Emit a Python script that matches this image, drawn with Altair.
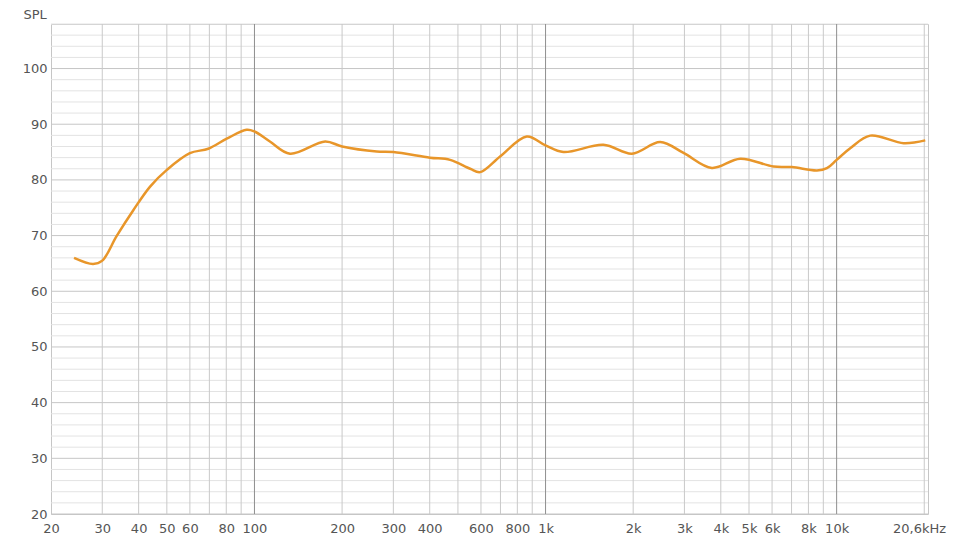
import altair as alt
import pandas as pd

# ---- data ----
freq = [24, 27.9, 30, 33.6, 38.4, 43.8, 50, 60, 69.4, 80.3, 94, 100, 113, 132.5,
        175, 200, 263, 300, 401, 470, 551, 596, 698, 862, 1000, 1152, 1581,
        1980, 2477, 2978, 3726, 4663, 6069, 7021, 8558, 9262, 10000, 11135, 13043,
        16985, 20160]
spl = [66.0, 64.9, 65.5, 69.9, 74.6, 78.8, 81.8, 84.8, 85.6, 87.4, 89.0, 88.7, 86.9, 84.7,
       86.9, 86.0, 85.1, 85.0, 84.0, 83.6, 82.0, 81.4, 84.2, 87.8, 86.2, 85.0, 86.3,
       84.7, 86.8, 84.85, 82.15, 83.8, 82.4, 82.3, 81.7, 82.1, 83.6, 85.7, 87.95,
       86.6, 87.1]

x_tick_values = [20, 30, 40, 50, 60, 80, 100, 200, 300, 400, 600, 800, 1000, 2000,
                 3000, 4000, 5000, 6000, 8000, 10000, 20600]
x_tick_labels = ["20", "30", "40", "50", "60", "80", "100", "200", "300", "400", "600",
                 "800", "1k", "2k", "3k", "4k", "5k", "6k", "8k", "10k", "20,6kHz"]
y_tick_values = [20, 30, 40, 50, 60, 70, 80, 90, 100]

x_grid_minor = [30, 40, 50, 60, 70, 80, 90, 200, 300, 400, 500, 600, 700, 800, 900,
                2000, 3000, 4000, 5000, 6000, 7000, 8000, 9000, 20000]
x_grid_decade = [100, 1000, 10000]
y_grid_minor = [v for v in range(20, 109, 2) if v % 10 != 0]
y_grid_major = [20, 30, 40, 50, 60, 70, 80, 90, 100]

FONT = "DejaVu Sans"
TXT = "#555555"

xscale = alt.Scale(type="log", domain=[20, 20600], nice=False)
yscale = alt.Scale(domain=[20, 108], nice=False, zero=False)

label_expr = "''"
for v, lab in reversed(list(zip(x_tick_values, x_tick_labels))):
    label_expr = f"abs(datum.value - {v}) < 0.5 ? '{lab}' : ({label_expr})"

x_axis = alt.Axis(values=x_tick_values, labelExpr=label_expr, grid=False, ticks=False,
                  domain=False, title=None, labelOverlap=False, labelFlush=False,
                  labelPadding=14, labelBaseline="middle", labelFontSize=13,
                  labelColor=TXT, labelFont=FONT,
                  labelOffset={"condition": {"test": "datum.value > 20000", "value": -9},
                               "value": 0})
y_axis = alt.Axis(values=y_tick_values, grid=False, ticks=False, domain=False,
                  labelPadding=4, labelFontSize=13, labelColor=TXT, labelFont=FONT,
                  title="SPL", titleAngle=0, titleAlign="left", titleBaseline="top",
                  titleX=-28, titleY=-16, titleFontSize=13, titleFontWeight="normal",
                  titleColor=TXT, titleFont=FONT)

df = pd.DataFrame({"freq": freq, "spl": spl})


def vrules(vals, color):
    return alt.Chart(pd.DataFrame({"freq": vals})).mark_rule(color=color, strokeWidth=1).encode(
        x=alt.X("freq:Q", scale=xscale, axis=x_axis))


def hrules(vals, color):
    return alt.Chart(pd.DataFrame({"spl": vals})).mark_rule(color=color, strokeWidth=1).encode(
        y=alt.Y("spl:Q", scale=yscale, axis=y_axis))


line = alt.Chart(df).mark_line(color="#e8962a", strokeWidth=2.5, interpolate="catmull-rom").encode(
    x=alt.X("freq:Q", scale=xscale, axis=x_axis),
    y=alt.Y("spl:Q", scale=yscale, axis=y_axis),
)

chart = alt.layer(
    hrules(y_grid_minor, "#e3e3e3"),
    hrules(y_grid_major, "#c6c6c6"),
    vrules(x_grid_minor, "#c9c9c9"),
    vrules(x_grid_decade, "#8f8f8f"),
    line,
).properties(
    width=877, height=490,
    autosize=alt.AutoSizeParams(type="none"),
    padding={"left": 43, "top": 16, "right": 24, "bottom": 30},
    background="white",
).configure_view(stroke="#c6c6c6", strokeWidth=1)

chart.save("out.html", embed_options={"renderer": "svg", "actions": False})
